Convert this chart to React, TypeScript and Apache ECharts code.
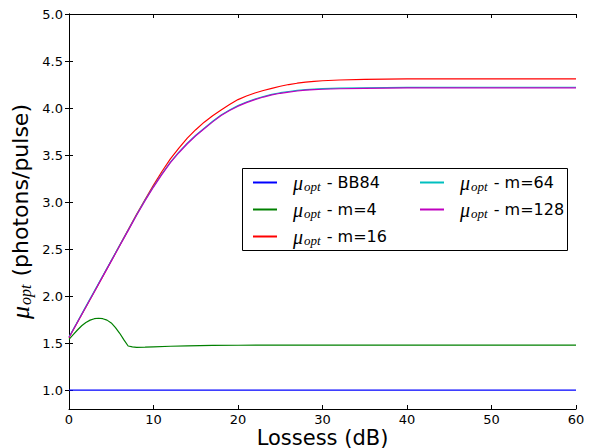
import React, { useEffect, useRef } from "react";
import * as echarts from "echarts";

const lossX = [0, 1, 2, 3, 4, 5, 6, 7, 8, 9, 10, 11, 12, 13, 14, 15, 16, 17, 18, 19, 20, 21, 22, 23, 24, 25, 26, 27, 28, 29, 30, 32, 35, 40, 50, 60];
const bb84 = lossX.map(() => 1.0);
const m16 = [1.56, 1.722, 1.885, 2.047, 2.21, 2.375, 2.54, 2.705, 2.87, 3.028, 3.18, 3.325, 3.46, 3.575, 3.68, 3.77, 3.85, 3.918, 3.98, 4.038, 4.09, 4.128, 4.16, 4.187, 4.21, 4.232, 4.25, 4.264, 4.275, 4.284, 4.29, 4.298, 4.305, 4.31, 4.31, 4.31];
const m64 = [1.566, 1.728, 1.891, 2.053, 2.216, 2.378, 2.541, 2.703, 2.866, 3.021, 3.166, 3.301, 3.426, 3.531, 3.626, 3.711, 3.786, 3.859, 3.926, 3.979, 4.026, 4.064, 4.096, 4.123, 4.146, 4.163, 4.176, 4.187, 4.196, 4.202, 4.206, 4.211, 4.216, 4.22, 4.221, 4.221];
const m128 = [1.56, 1.722, 1.885, 2.047, 2.21, 2.372, 2.535, 2.697, 2.86, 3.015, 3.16, 3.295, 3.42, 3.525, 3.62, 3.705, 3.78, 3.853, 3.92, 3.973, 4.02, 4.058, 4.09, 4.117, 4.14, 4.157, 4.17, 4.181, 4.19, 4.196, 4.2, 4.205, 4.21, 4.214, 4.215, 4.215];
const m4X = [0, 0.5, 1, 1.5, 2, 2.5, 3, 3.5, 4, 4.5, 5, 5.5, 6, 6.5, 7, 7.5, 8, 9, 10, 12, 14, 17, 20, 30, 60];
const m4Y = [1.54, 1.59, 1.64, 1.685, 1.72, 1.745, 1.76, 1.765, 1.76, 1.745, 1.715, 1.665, 1.605, 1.535, 1.47, 1.46, 1.455, 1.457, 1.46, 1.467, 1.472, 1.476, 1.478, 1.48, 1.48];
const yTicks = [1.0, 1.5, 2.0, 2.5, 3.0, 3.5, 4.0, 4.5, 5.0];
const legendCol1 = ["BB84", "m=4", "m=16"];
const legendCol2 = ["m=64", "m=128"];
const colors: Record<string, string> = {
  BB84: "#0000ff",
  "m=4": "#008000",
  "m=16": "#ff0000",
  "m=64": "#00bfbf",
  "m=128": "#bf00bf",
};

const pairs = (xs: number[], ys: number[]) => xs.map((x, i) => [x, ys[i]]);

export default function App() {
  const ref = useRef<HTMLDivElement>(null);
  useEffect(() => {
    if (!ref.current) return;
    const chart = echarts.init(ref.current, undefined, { renderer: "svg" });
    const mathFont = "Liberation Serif";
    const rich = {
      mu: { fontFamily: mathFont, fontStyle: "italic", fontSize: 20, color: "#000", padding: [0, 0, 0, 11], lineHeight: 20 },
      sub: { fontFamily: mathFont, fontStyle: "italic", fontSize: 13, color: "#000", padding: [8, 1, 0, 1], lineHeight: 20 },
      t: { fontFamily: "DejaVu Sans", fontSize: 16, color: "#000", lineHeight: 20 },
    };
    const legendBase = {
      orient: "vertical",
      icon: "rect",
      itemWidth: 24,
      itemHeight: 2,
      itemGap: 6,
      formatter: (name: string) => `{mu|μ}{sub|opt}{t| - ${name}}`,
      textStyle: { rich },
      z: 10,
    };
    const tickStyle = { show: true, inside: true, length: 4, lineStyle: { color: "#000", width: 1 } };
    const axisLine = { show: true, lineStyle: { color: "#000", width: 1 } };
    const mkSeries = (name: string, data: number[][], z: number) => ({
      name,
      type: "line",
      data,
      showSymbol: false,
      symbol: "none",
      z,
      lineStyle: { color: colors[name], width: 1.2 },
      itemStyle: { color: colors[name] },
    });
    chart.setOption({
      animation: false,
      backgroundColor: "#fff",
      grid: { left: 69, right: 19, top: 14, bottom: 39, containLabel: false, outerBoundsMode: "none" },
      xAxis: [
        {
          type: "value",
          min: 0,
          max: 60,
          interval: 10,
          axisLine,
          axisTick: tickStyle,
          splitLine: { show: false },
          axisLabel: { color: "#000", fontFamily: "DejaVu Sans", fontSize: 13, margin: 4, lineHeight: 13 },
          name: "Lossess (dB)",
          nameLocation: "middle",
          nameGap: 29,
          nameMoveOverlap: false,
          nameTextStyle: { color: "#000", fontFamily: "DejaVu Sans", fontSize: 21, verticalAlign: "middle", lineHeight: 18 },
        },
        {
          type: "value",
          position: "top",
          min: 0,
          max: 60,
          interval: 10,
          axisLine,
          axisTick: tickStyle,
          splitLine: { show: false },
          axisLabel: { show: false },
        },
      ],
      yAxis: [
        {
          type: "value",
          min: 0.8,
          max: 5.0,
          axisLine,
          axisTick: { ...tickStyle, customValues: yTicks },
          splitLine: { show: false },
          axisLabel: {
            color: "#000",
            fontFamily: "DejaVu Sans",
            fontSize: 13,
            margin: 6,
            customValues: yTicks,
            formatter: (v: number) => v.toFixed(1),
          },
          name: "{mu|μ}{sub|opt}{t| (photons/pulse)}",
          nameLocation: "middle",
          nameGap: 36,
          nameMoveOverlap: false,
          nameRotate: 90,
          nameTextStyle: {
            rich: {
              mu: { fontFamily: mathFont, fontStyle: "italic", fontSize: 26, color: "#000" },
              sub: { fontFamily: mathFont, fontStyle: "italic", fontSize: 16, color: "#000", padding: [10, 1, 0, 1] },
              t: { fontFamily: "DejaVu Sans", fontSize: 22, color: "#000" },
            },
          },
        },
        {
          type: "value",
          position: "right",
          min: 0.8,
          max: 5.0,
          axisLine,
          axisTick: { ...tickStyle, customValues: yTicks },
          splitLine: { show: false },
          axisLabel: { show: false, customValues: yTicks },
        },
      ],
      graphic: [
        {
          type: "rect",
          shape: { x: 242.5, y: 168.5, width: 325, height: 82 },
          style: { fill: "#fff", stroke: "#000", lineWidth: 1 },
          z: 5,
        },
      ],
      legend: [
        { ...legendBase, left: 248, top: 167, data: legendCol1 },
        { ...legendBase, left: 415, top: 167, data: legendCol2 },
      ],
      series: [
        mkSeries("BB84", pairs(lossX, bb84), 2),
        mkSeries("m=4", pairs(m4X, m4Y), 3),
        mkSeries("m=16", pairs(lossX, m16), 4),
        mkSeries("m=64", pairs(lossX, m64), 5),
        mkSeries("m=128", pairs(lossX, m128), 6),
      ],
    });
    return () => chart.dispose();
  }, []);
  return <div ref={ref} style={{ position: "absolute", left: 0, top: 0, width: 595, height: 448 }} />;
}
